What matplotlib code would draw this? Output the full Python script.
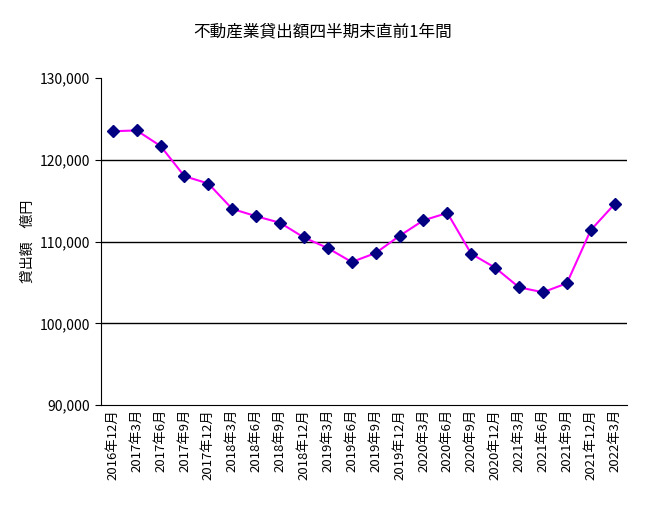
import matplotlib
matplotlib.use("Agg")
import matplotlib.pyplot as plt

plt.rcParams["font.family"] = ["Noto Sans CJK JP", "DejaVu Sans"]

categories = ["2016年12月","2017年3月","2017年6月","2017年9月","2017年12月",
              "2018年3月","2018年6月","2018年9月","2018年12月","2019年3月",
              "2019年6月","2019年9月","2019年12月","2020年3月","2020年6月",
              "2020年9月","2020年12月","2021年3月","2021年6月","2021年9月",
              "2021年12月","2022年3月"]
values = [123500,123600,121700,118000,117100,114000,113100,112300,110500,109200,
          107500,108600,110700,112600,113500,108500,106800,104400,103800,104900,
          111400,114600]
yticks = [90000,100000,110000,120000,130000]

fig = plt.figure(figsize=(6.46,5.14), dpi=100)
ax = fig.add_axes([0.156,0.212,0.814,0.636])
x = list(range(len(categories)))
ax.plot(x, values, color="#ff00ff", lw=1.5, marker="D", ms=6,
        markerfacecolor="#000080", markeredgecolor="#000080", zorder=3)
ax.set_xlim(-0.5, len(categories)-0.5)
ax.set_ylim(90000,130000)
ax.set_yticks(yticks)
ax.set_yticklabels([f"{v:,}" for v in yticks], fontsize=10)
ax.set_xticks(x)
ax.set_xticklabels(categories, rotation=90, fontsize=9.5)
ax.tick_params(axis="x", length=0, pad=3)
ax.tick_params(axis="y", length=4, direction="out")
for v in yticks[1:4]:
    ax.axhline(v, color="black", lw=1, zorder=1)
for s in ["top","right"]:
    ax.spines[s].set_visible(False)
ax.set_ylabel("貸出額　億円", fontsize=10)
fig.suptitle("不動産業貸出額四半期末直前1年間", y=0.955, fontsize=12)
fig.savefig("out.png", dpi=100)
